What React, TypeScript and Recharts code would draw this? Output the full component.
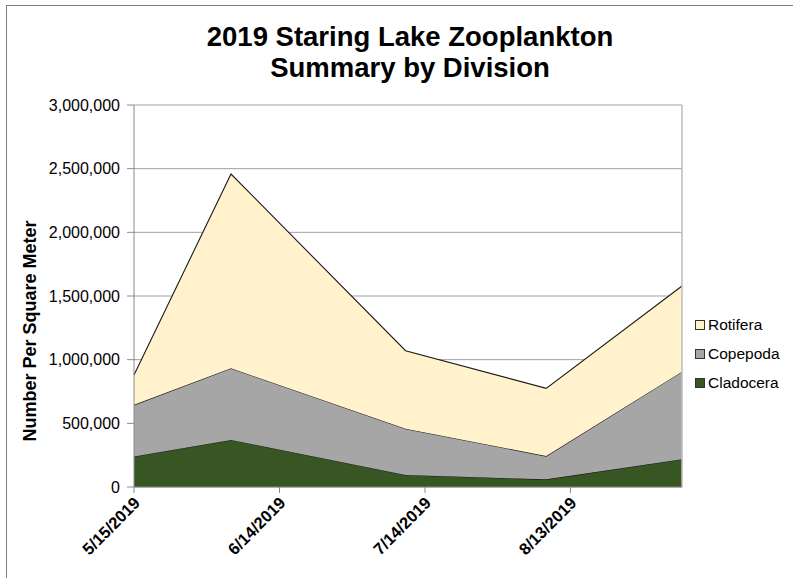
import React from "react";
import { AreaChart, Area, XAxis, YAxis, CartesianGrid, Label, ReferenceLine } from "recharts";

const dates = ["2019-05-15", "2019-06-04", "2019-07-10", "2019-08-08", "2019-09-05"];
const cladocera = [240000, 370000, 95000, 60000, 218000];
const copepoda = [405000, 562000, 363000, 183000, 688000];
const rotifera = [235000, 1526000, 612000, 532000, 673000];
const tickDates = ["2019-05-15", "2019-06-14", "2019-07-14", "2019-08-13"];
const yTicks = [0, 500000, 1000000, 1500000, 2000000, 2500000, 3000000];

const seriesInfo = [
  { key: "Rotifera", color: "#FFF2CC" },
  { key: "Copepoda", color: "#A6A6A6" },
  { key: "Cladocera", color: "#375623" },
];

const toMs = (s: string) => Date.parse(s + "T00:00:00Z");

const data = dates.map((d, i) => ({
  t: toMs(d),
  Cladocera: cladocera[i],
  Copepoda: copepoda[i],
  Rotifera: rotifera[i],
}));

const FONT = "'Liberation Sans', Arial, sans-serif";

const fmtDate = (ms: number) => {
  const d = new Date(ms);
  return `${d.getUTCMonth() + 1}/${d.getUTCDate()}/${d.getUTCFullYear()}`;
};

const XTick = (props: any) => {
  const { x, y, payload } = props;
  return (
    <g transform={`translate(${x + 3},${y + 5})`}>
      <text
        transform="rotate(-45)"
        textAnchor="end"
        fontFamily={FONT}
        fontWeight="bold"
        fontSize={16.5}
        fill="#000"
        dy="0.35em"
      >
        {fmtDate(payload.value)}
      </text>
    </g>
  );
};

const LegendBox = () => (
  <div
    style={{
      position: "absolute",
      left: 695,
      top: 310,
      width: 98,
      fontFamily: FONT,
      fontSize: 15.5,
      color: "#000",
    }}
  >
    {seriesInfo.map((s) => (
      <div key={s.key} style={{ display: "flex", alignItems: "center", height: 29 }}>
        <span
          style={{
            display: "inline-block",
            width: 8,
            height: 8,
            background: s.color,
            border: "1px solid #333",
            marginRight: 3,
          }}
        />
        <span>{s.key}</span>
      </div>
    ))}
  </div>
);

export default function App() {
  return (
    <div style={{ position: "relative", width: 793, height: 578, overflow: "hidden", background: "#fff" }}>
      <style>{"body{margin:0}"}</style>
      <div
        style={{
          position: "absolute",
          left: 6,
          top: 5,
          width: 900,
          height: 700,
          border: "1px solid #7f7f7f",
        }}
      />
      <div
        style={{
          position: "absolute",
          left: 0,
          top: 21,
          width: 793,
          paddingLeft: 27,
          boxSizing: "border-box",
          textAlign: "center",
          fontFamily: FONT,
          fontWeight: "bold",
          fontSize: 27.5,
          lineHeight: "31px",
          color: "#000",
        }}
      >
        <div>2019 Staring Lake Zooplankton</div>
        <div>Summary by Division</div>
      </div>
      <div style={{ position: "absolute", left: 0, top: 0 }}>
        <AreaChart
          width={793}
          height={578}
          data={data}
          margin={{ top: 105, right: 111, bottom: 0, left: 0 }}
        >
          <CartesianGrid vertical={false} stroke="#a0a0a0" />
          <XAxis
            dataKey="t"
            type="number"
            scale="linear"
            domain={[toMs(dates[0]), toMs(dates[dates.length - 1])]}
            ticks={tickDates.map(toMs)}
            tick={<XTick />}
            tickSize={6}
            tickMargin={2}
            height={91}
            axisLine={{ stroke: "#8a8a8a" }}
            tickLine={{ stroke: "#8a8a8a" }}
            interval={0}
          />
          <YAxis
            type="number"
            domain={[0, 3000000]}
            ticks={yTicks}
            width={134}
            tickSize={7}
            tickMargin={7}
            interval={0}
            tick={{ fontFamily: FONT, fontSize: 16, fill: "#000" }}
            tickFormatter={(v: number) => v.toLocaleString("en-US")}
            axisLine={{ stroke: "#8a8a8a" }}
            tickLine={{ stroke: "#8a8a8a" }}
          >
            <Label
              content={() => (
                <text
                  transform="translate(36,331) rotate(-90)"
                  textAnchor="middle"
                  fontFamily={FONT}
                  fontWeight="bold"
                  fontSize={18}
                  fill="#000"
                >
                  Number Per Square Meter
                </text>
              )}
            />
          </YAxis>
          <ReferenceLine x={toMs(dates[dates.length - 1])} stroke="#bdbdbd" strokeWidth={1.5} />
          <Area
            type="linear"
            dataKey="Cladocera"
            stackId="1"
            fill="#375623"
            fillOpacity={1}
            stroke="#1a1a1a"
            strokeWidth={1.1}
            isAnimationActive={false}
          />
          <Area
            type="linear"
            dataKey="Copepoda"
            stackId="1"
            fill="#A6A6A6"
            fillOpacity={1}
            stroke="#1a1a1a"
            strokeWidth={1.1}
            isAnimationActive={false}
          />
          <Area
            type="linear"
            dataKey="Rotifera"
            stackId="1"
            fill="#FFF2CC"
            fillOpacity={1}
            stroke="#1a1a1a"
            strokeWidth={1.1}
            isAnimationActive={false}
          />
        </AreaChart>
      </div>
      <LegendBox />
    </div>
  );
}
